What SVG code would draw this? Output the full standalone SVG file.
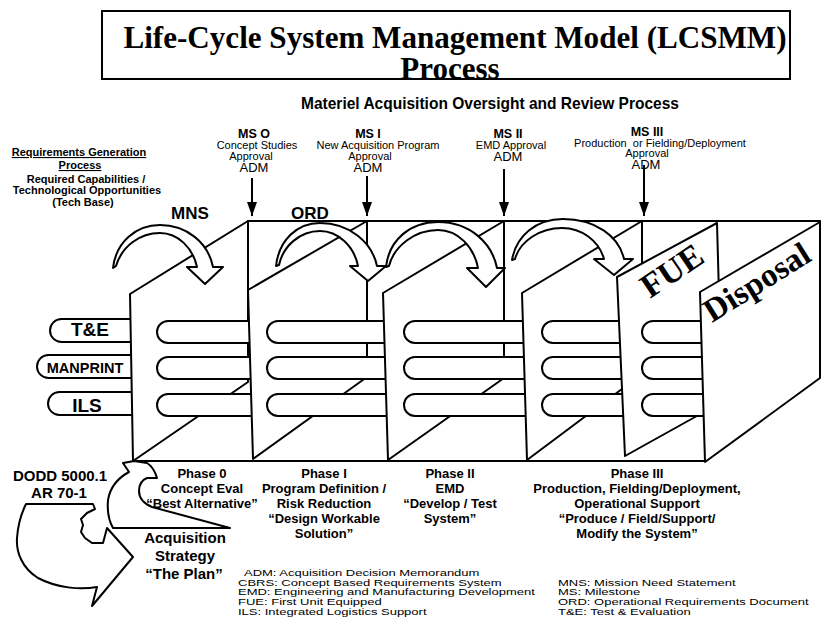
<svg xmlns="http://www.w3.org/2000/svg" width="822" height="618" viewBox="0 0 822 618">
<defs>
<style>
.ln{fill:none;stroke:#000;stroke-width:2;stroke-linejoin:round;stroke-linecap:round}
.pn{fill:#fff;stroke:#000;stroke-width:2;stroke-linejoin:round}
.tb{fill:#fff;stroke:#000;stroke-width:2}
.ar{fill:#fff;stroke:#000;stroke-width:2;stroke-linejoin:round}
.ms{fill:none;stroke:#000;stroke-width:2}
text{font-family:"Liberation Sans",Arial,sans-serif;fill:#000}
.serif{font-family:"Liberation Serif","Times New Roman",serif;font-weight:bold}
.msh{font-size:12.5px;font-weight:bold;text-anchor:middle}
.msd{font-size:11px;text-anchor:middle}
.adm{font-size:13px;text-anchor:middle}
.req{font-size:11px;font-weight:bold;text-anchor:middle}
.ph{font-size:13px;font-weight:bold;text-anchor:middle}
.big{font-size:17px;font-weight:bold;text-anchor:middle}
.acq{font-size:15px;font-weight:bold;text-anchor:middle}
.tabt{font-weight:bold;text-anchor:middle}
.lg{font-size:13px}
</style>
<marker id="ah" viewBox="0 0 14 10" refX="14" refY="5" markerWidth="14" markerHeight="10" orient="auto" markerUnits="userSpaceOnUse">
<path d="M0,0 L14,5 L0,10 Z" fill="#000"/>
</marker>
</defs>
<rect width="822" height="618" fill="#fff"/>

<g id="title">
<rect x="102" y="11" width="688" height="68" fill="#fff" stroke="#000" stroke-width="2"/>
<text class="serif" x="455" y="48" font-size="32" text-anchor="middle" textLength="663" lengthAdjust="spacingAndGlyphs">Life-Cycle System Management Model (LCSMM)</text>
<text class="serif" x="450" y="79" font-size="31" text-anchor="middle">Process</text>
</g>

<g id="subtitle">
<text x="490" y="109" font-size="17" font-weight="bold" text-anchor="middle" textLength="378" lengthAdjust="spacingAndGlyphs">Materiel Acquisition Oversight and Review Process</text>
</g>

<g id="requirements">
<text class="req" x="79" y="156" text-decoration="underline">Requirements Generation</text>
<text class="req" x="80" y="169" text-decoration="underline">Process</text>
<text class="req" x="86" y="183">Required Capabilities /</text>
<text class="req" x="87" y="194">Technological Opportunities</text>
<text class="req" x="83" y="206">(Tech Base)</text>
</g>

<g id="ms0">
<text class="msh" x="254" y="138">MS O</text>
<text class="msd" x="257" y="149">Concept Studies</text>
<text class="msd" x="251" y="160">Approval</text>
<text class="adm" x="254" y="172">ADM</text>
</g>
<g id="ms1">
<text class="msh" x="368" y="138">MS I</text>
<text class="msd" x="378" y="149">New Acquisition Program</text>
<text class="msd" x="370" y="160">Approval</text>
<text class="adm" x="368" y="172">ADM</text>
</g>
<g id="ms2">
<text class="msh" x="508" y="138">MS II</text>
<text class="msd" x="511" y="149">EMD Approval</text>
<text class="adm" x="508" y="161">ADM</text>
</g>
<g id="ms3">
<text class="msh" x="647" y="136">MS III</text>
<text class="msd" x="660" y="147" xml:space="preserve">Production  or Fielding/Deployment</text>
<text class="msd" x="647" y="157">Approval</text>
<text class="adm" x="646" y="169">ADM</text>
</g>

<g id="side-tabs">
<rect class="tb" x="50" y="319" width="100" height="23" rx="11.5"/>
<text class="tabt" x="90" y="336" font-size="19">T&amp;E</text>
<rect class="tb" x="37" y="355" width="113" height="23" rx="11.5"/>
<text class="tabt" x="85" y="373" font-size="14.5">MANPRINT</text>
<rect class="tb" x="48" y="392" width="102" height="23" rx="11.5"/>
<text class="tabt" x="87" y="412" font-size="19">ILS</text>
</g>

<g id="phase0-panel">
<path class="pn" d="M130,294 L248,221 L248,382 L133,461 Z"/>
<rect class="tb" x="157" y="321" width="108" height="22" rx="11"/>
<rect class="tb" x="157" y="357" width="108" height="22" rx="11"/>
<rect class="tb" x="157" y="394" width="108" height="22" rx="11"/>
</g>
<g id="phase1-panel">
<path class="pn" d="M248,290 L367,221 L367,377 L253,459 Z"/>
<rect class="tb" x="267" y="321" width="133" height="22" rx="11"/>
<rect class="tb" x="267" y="357" width="133" height="22" rx="11"/>
<rect class="tb" x="267" y="394" width="133" height="22" rx="11"/>
</g>
<g id="phase2-panel">
<path class="pn" d="M383,293 L504,221 L504,378 L388,460 Z"/>
<rect class="tb" x="404" y="321" width="136" height="22" rx="11"/>
<rect class="tb" x="404" y="357" width="136" height="22" rx="11"/>
<rect class="tb" x="404" y="394" width="136" height="22" rx="11"/>
</g>
<g id="phase3-panel">
<path class="pn" d="M522,293 L642,221 L642,374 L527,460 Z"/>
<rect class="tb" x="542" y="321" width="93" height="22" rx="11"/>
<rect class="tb" x="542" y="357" width="93" height="22" rx="11"/>
<rect class="tb" x="542" y="394" width="93" height="22" rx="11"/>
</g>
<g id="fue-panel">
<path class="pn" d="M617,277 L717,223 L722,402 L625,456 Z"/>
<text class="serif" font-size="34" transform="translate(650,299) rotate(-34)">FUE</text>
<rect class="tb" x="642" y="321" width="73" height="22" rx="11"/>
<rect class="tb" x="642" y="357" width="73" height="22" rx="11"/>
<rect class="tb" x="642" y="394" width="73" height="22" rx="11"/>
</g>
<g id="disposal-panel">
<path class="pn" d="M700,292 L820,222 L820,378 L705,462 Z"/>
<text class="serif" font-size="33" transform="translate(712,323) rotate(-32)">Disposal</text>
</g>

<g id="frame">
<path class="ln" d="M248,221 L820,221"/>
<path class="ln" d="M133,461 L705,461"/>
</g>

<g id="connectors">
<line class="ms" x1="252" y1="178" x2="252" y2="216" marker-end="url(#ah)"/>
<line class="ms" x1="367" y1="176" x2="367" y2="216" marker-end="url(#ah)"/>
<line class="ms" x1="504" y1="169" x2="504" y2="216" marker-end="url(#ah)"/>
<line class="ms" x1="644" y1="165" x2="644" y2="216" marker-end="url(#ah)"/>
<path class="ar" d="M113,268 C116,242 136,225 160,225 C186,225 208,242 213,267 L223,267 L205,284 L187,267 L197,267 C193,248 178,233 160,233 C140,233 122,246 116,266 Z"/>
<path class="ar" d="M276,266 C279,240 297,223 320,223 C349,223 372,242 377,266 L386,266 L368,281 L350,266 L358,266 C354,246 338,231 320,231 C300,231 283,246 279,265 Z"/>
<path class="ar" d="M386,267 C389,240 410,222 438,222 C470,222 492,243 497,268 L505,268 L486,287 L467,268 L478,268 C474,247 458,230 438,230 C415,230 394,246 389,266 Z"/>
<path class="ar" d="M512,260 C516,236 536,219 563,219 C595,219 619,236 624,259 L633,259 L614,275 L594,259 L604,259 C599,241 582,228 562,228 C540,228 520,241 515,259 Z"/>
<path class="ar" d="M26,504 L93,504 L95,509 L87,513 L81,519 L83,525 L81,532 L85,538 L92,543 L103,543 L107,528 L133,557 L92,606 L97,587 C80,590 57,588 38,578 C22,568 16,552 17,538 C18,524 22,512 26,504 Z"/>
<path class="ar" d="M113,528 L230,528 L152,507 C145,504 139,499 139,491 C139,484 142,480 147,478 L157,478 C155,471 152,466 147,463 L134,461 L123,463 L129,472 C118,478 110,488 108,500 C107,512 109,521 113,528 Z"/>
</g>

<g id="labels">
<text class="big" x="190" y="219">MNS</text>
<text class="big" x="310" y="219">ORD</text>
</g>

<g id="phase0-text">
<text class="ph" x="202" y="478">Phase 0</text>
<text class="ph" x="202" y="493">Concept Eval</text>
<text class="ph" x="202" y="508">“Best Alternative”</text>
</g>
<g id="phase1-text">
<text class="ph" x="324" y="478">Phase I</text>
<text class="ph" x="324" y="493">Program Definition /</text>
<text class="ph" x="324" y="508">Risk Reduction</text>
<text class="ph" x="324" y="523">“Design Workable</text>
<text class="ph" x="324" y="538">Solution”</text>
</g>
<g id="phase2-text">
<text class="ph" x="450" y="478">Phase II</text>
<text class="ph" x="450" y="493">EMD</text>
<text class="ph" x="450" y="508">“Develop / Test</text>
<text class="ph" x="450" y="523">System”</text>
</g>
<g id="phase3-text">
<text class="ph" x="637" y="478">Phase III</text>
<text class="ph" x="637" y="493">Production, Fielding/Deployment,</text>
<text class="ph" x="637" y="508">Operational Support</text>
<text class="ph" x="637" y="523">“Produce / Field/Support/</text>
<text class="ph" x="637" y="538">Modify the System”</text>
</g>

<g id="dodd">
<text class="acq" x="60" y="481">DODD 5000.1</text>
<text class="acq" x="59" y="498">AR 70-1</text>
</g>
<g id="acq-strategy">
<text class="acq" x="185" y="543">Acquisition</text>
<text class="acq" x="185" y="561">Strategy</text>
<text class="acq" x="184" y="579">“The Plan”</text>
</g>

<g id="legend" transform="scale(1,0.75)" xml:space="preserve">
<text class="lg" x="244" y="768">ADM:  Acquisition Decision Memorandum</text>
<text class="lg" x="238" y="781">CBRS:  Concept Based Requirements System</text>
<text class="lg" x="238" y="794">EMD:  Engineering and Manufacturing Development</text>
<text class="lg" x="238" y="807">FUE:  First Unit Equipped</text>
<text class="lg" x="238" y="820">ILS:  Integrated Logistics Support</text>
<text class="lg" x="558" y="781">MNS:  Mission Need Statement</text>
<text class="lg" x="558" y="794">MS:  Milestone</text>
<text class="lg" x="558" y="807">ORD:  Operational Requirements Document</text>
<text class="lg" x="558" y="820">T&amp;E:  Test &amp; Evaluation</text>
</g>
</svg>
